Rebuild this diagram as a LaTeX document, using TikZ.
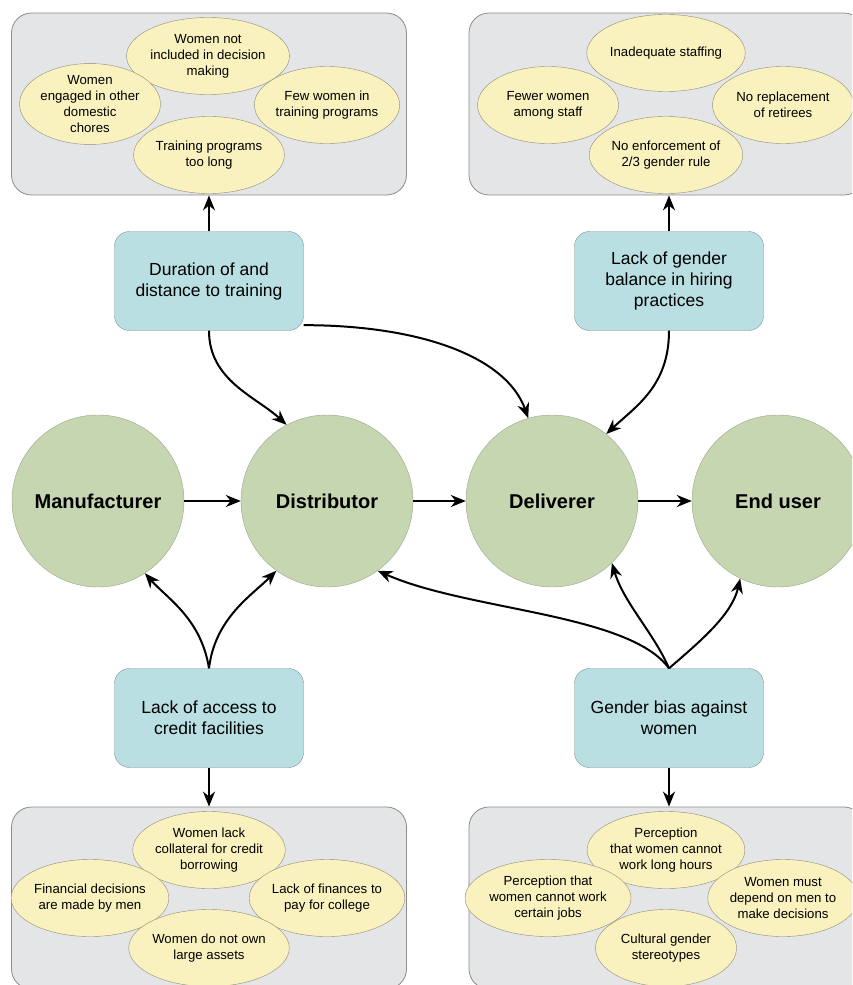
\documentclass[tikz,border=0pt]{standalone}
\usepackage{fontspec}
\setmainfont{Liberation Sans}
\usetikzlibrary{shapes.geometric,arrows.meta}
\definecolor{groupfill}{HTML}{E4E5E7}
\definecolor{groupline}{HTML}{8C8C8C}
\definecolor{notefill}{HTML}{FAF2BE}
\definecolor{noteline}{HTML}{8F8B78}
\definecolor{causefill}{HTML}{B9DFE2}
\definecolor{causeline}{HTML}{7F9193}
\definecolor{stagefill}{HTML}{C6D6B0}
\definecolor{stageline}{HTML}{9AA58A}

\begin{document}
\begin{tikzpicture}[x=1pt,y=-1pt,
  group/.style={draw=groupline,fill=groupfill,rounded corners=20pt,minimum width=395pt,minimum height=182pt,line width=0.8pt},
  note/.style={ellipse,draw=noteline,fill=notefill,minimum width=141pt,minimum height=77pt,inner sep=0pt,align=center,font=\fontsize{13.2}{16}\selectfont},
  cause/.style={draw=causeline,fill=causefill,rounded corners=15pt,minimum width=189pt,minimum height=99pt,align=center,font=\fontsize{17.5}{21}\selectfont},
  stage/.style={circle,draw=stageline,fill=stagefill,minimum size=172pt,inner sep=0pt,font=\fontsize{20}{24}\selectfont\bfseries},
  link/.style={line width=2pt,-{Stealth[length=15pt,width=12pt]}}]
\clip (0,0) rectangle (852,985);

\node[group] (topL) at (209,104) {};
\node[group] (topR) at (666.5,104) {};
\node[group] (botL) at (209,898) {};
\node[group] (botR) at (666.5,898) {};

\node[note] (t1) at (208,56) {Women not\\included in decision\\making};
\node[note] (t2) at (90,104) {Women\\engaged in other\\domestic\\chores};
\node[note] (t3) at (327,105) {Few women in\\training programs};
\node[note] (t4) at (209,155) {Training programs\\too long};

\node[note] (h1) at (666,53) {Inadequate staffing};
\node[note] (h2) at (548,105) {Fewer women\\among staff};
\node[note] (h3) at (783,105) {No replacement\\of retirees};
\node[note] (h4) at (666,155) {No enforcement of\\2/3 gender rule};

\node[note] (c1) at (209,850) {Women lack\\collateral for credit\\borrowing};
\node[note] (c2) at (90,898) {Financial decisions\\are made by men};
\node[note] (c3) at (327,898) {Lack of finances to\\pay for college};
\node[note] (c4) at (209,948) {Women do not own\\large assets};

\node[note] (b1) at (666,850) {Perception\\that women cannot\\work long hours};
\node[note] (b2) at (548,898) {Perception that\\women cannot work\\certain jobs};
\node[note] (b3) at (783,898) {Women must\\depend on men to\\make decisions};
\node[note] (b4) at (666,948) {Cultural gender\\stereotypes};

\node[cause] (dur) at (209,281) {Duration of and\\distance to training};
\node[cause] (hire) at (669,281) {Lack of gender\\balance in hiring\\practices};
\node[cause] (credit) at (209,718) {Lack of access to\\credit facilities};
\node[cause] (bias) at (669,718) {Gender bias against\\women};

\node[stage] (manu) at (98,501) {Manufacturer};
\node[stage] (dist) at (327,501) {Distributor};
\node[stage] (deliv) at (552,501) {Deliverer};
\node[stage] (user) at (778,501) {End user};

\draw[link] (dur.north) -- (topL.south);
\draw[link] (hire.north) -- (hire.north |- topR.south);
\draw[link] (credit.south) -- (botL.north);
\draw[link] (bias.south) -- (bias.south |- botR.north);

\draw[link] (manu) -- (dist);
\draw[link] (dist) -- (deliv);
\draw[link] (deliv) -- (user);

\draw[link] (dur.south) .. controls +(0,50) and +(-30,-28) .. (dist.118);
\draw[link] (dur.-25) .. controls +(115,0) and +(-22,-62) .. (deliv.106);
\draw[link] (hire.south) .. controls +(0,55) and +(30,-28) .. (deliv.51);

\draw[link] (credit.north) .. controls +(-8,-50) and +(22,25) .. (manu.-57);
\draw[link] (credit.north) .. controls +(6,-50) and +(-25,25) .. (dist.-126);
\draw[link] (bias.north) .. controls +(-40,-55) and +(90,40) .. (dist.-54);
\draw[link] (bias.north) .. controls +(-15,-35) and +(12,40) .. (deliv.-46);
\draw[link] (bias.north) .. controls +(35,-30) and +(-8,35) .. (user.-116);
\end{tikzpicture}
\end{document}
